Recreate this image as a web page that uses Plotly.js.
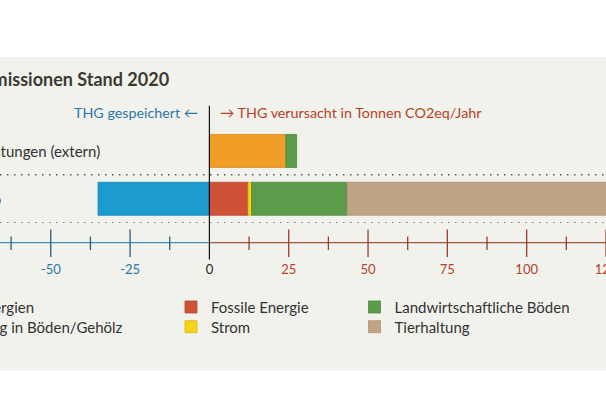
<!DOCTYPE html>
<html>
<head>
<meta charset="utf-8">
<script src="https://cdn.plot.ly/plotly-3.0.1.min.js"></script>
<style>
  html, body { margin: 0; padding: 0; background: #ffffff; }
  #chart { width: 606px; height: 402px; }
</style>
</head>
<body>
<div id="chart"></div>
<script>
// ---- data ----
const categories = ['Betrieb', 'Vorleistungen (extern)'];
const vorleistungen = [null, 24.1];       // orange
const speicherung = [-35.1, null];        // blue (stored)
const fossileEnergie = [12.2, null];      // red
const strom = [1.1, null];                // yellow
const boeden = [30.1, 3.4];               // green
const tierhaltung = [90, null];           // tan
const seriesNames = ['Zukauf Energien', 'Speicherung in Böden/Gehölz', 'Fossile Energie', 'Strom', 'Landwirtschaftliche Böden', 'Tierhaltung'];
const tickValues = [-50, -25, 0, 25, 50, 75, 100, 125];
const tickLabels = ['-50', '-25', '0', '25', '50', '75', '100', '125'];
const minorTickValues = [-62.5, -37.5, -12.5, 12.5, 37.5, 62.5, 87.5, 112.5];

// ---- layout helpers ----
const W = 606, H = 402;
const plotTop = 126.85, plotBottom = 260;
const yP = py => (plotBottom - py) / (plotBottom - plotTop);
const xP = px => px / W;
const FONT = 'Lato, "Open Sans", sans-serif';
const BLUE_TXT = '#2a78a8', RED_TXT = '#b5412b';
const BLUE_AX = '#3d90b6', RED_AX = '#a85444';
const BLUE_TICK = '#245f80', RED_TICK = '#9a3d2f';
const xMin = -66, xMax = 125;

const colors = ['#f09e28', '#1b9bce', '#cd5237', '#f5d31a', '#5b9b4a', '#c0a584'];
const lines = ['#d98a1c', '#1787b5', '#b8452c', '#e0b800', '#4c8a3d', '#ad9170'];
const seriesData = [vorleistungen, speicherung, fossileEnergie, strom, boeden, tierhaltung];
const legendIds = ['legend', 'legend2', 'legend3', 'legend4', 'legend5', 'legend6'];

const traces = seriesData.map((vals, i) => ({
  type: 'bar',
  orientation: 'h',
  name: seriesNames[i],
  y: categories,
  x: vals,
  width: 0.69,
  marker: { color: colors[i], line: { color: lines[i], width: 0.8 } },
  legend: legendIds[i],
  hoverinfo: 'skip'
}));

const shapes = [];
// beige panel
shapes.push({ type: 'rect', xref: 'paper', yref: 'paper', x0: -0.02, x1: 1.02, y0: yP(371), y1: yP(57),
  fillcolor: '#f2f2ec', line: { width: 0 }, layer: 'below' });
// dotted separators
[-0.5, 0.5].forEach(v => shapes.push({ type: 'line', xref: 'paper', yref: 'y', x0: 0, x1: 1, y0: v, y1: v,
  line: { color: '#555555', width: 1.5, dash: '1.5px,5.5px' }, layer: 'above' }));
// axis line (blue negative, red positive)
shapes.push({ type: 'line', xref: 'x', yref: 'paper', x0: xMin, x1: 0, y0: yP(242.7), y1: yP(242.7), line: { color: BLUE_AX, width: 1.3 } });
shapes.push({ type: 'line', xref: 'x', yref: 'paper', x0: 0, x1: xMax + 5, y0: yP(242.7), y1: yP(242.7), line: { color: RED_AX, width: 1.3 } });
// major ticks
tickValues.filter(v => v !== 0).forEach(v => shapes.push({ type: 'line', xref: 'x', yref: 'paper', x0: v, x1: v,
  y0: yP(229.5), y1: yP(257), line: { color: v < 0 ? BLUE_TICK : RED_TICK, width: 1.3 } }));
// minor ticks
minorTickValues.forEach(v => shapes.push({ type: 'line', xref: 'x', yref: 'paper', x0: v, x1: v,
  y0: yP(236.5), y1: yP(250), line: { color: v < 0 ? BLUE_TICK : RED_TICK, width: 1.3 } }));
// zero line
shapes.push({ type: 'line', xref: 'x', yref: 'paper', x0: 0, x1: 0, y0: yP(105.5), y1: yP(259.5),
  line: { color: '#111111', width: 1.2 }, layer: 'above' });

const annotations = [
  { text: '<b>THG-Emissionen Stand 2020</b>', xref: 'paper', yref: 'paper', x: xP(171), y: yP(79), xanchor: 'right', yanchor: 'middle',
    showarrow: false, font: { family: FONT, size: 18, color: '#3a3a33' } },
  { text: 'THG gespeichert ←', xref: 'paper', yref: 'paper', x: xP(200), y: yP(112), xanchor: 'right', yanchor: 'middle',
    showarrow: false, font: { family: FONT, size: 14.3, color: BLUE_TXT } },
  { text: '→ THG verursacht in Tonnen CO2eq/Jahr', xref: 'paper', yref: 'paper', x: xP(218), y: yP(112), xanchor: 'left', yanchor: 'middle',
    showarrow: false, font: { family: FONT, size: 14.3, color: RED_TXT } },
  { text: categories[1], xref: 'paper', yref: 'y', x: xP(102), y: categories[1], xanchor: 'right', yanchor: 'middle',
    showarrow: false, font: { family: FONT, size: 15, color: '#333333' } },
  { text: categories[0], xref: 'paper', yref: 'y', x: xP(3), y: categories[0], xanchor: 'right', yanchor: 'middle',
    showarrow: false, font: { family: FONT, size: 15, color: '#333333' } }
];

const tickText = tickLabels.map((t, i) => {
  const v = tickValues[i];
  const c = v < 0 ? BLUE_TXT : (v > 0 ? RED_TXT : '#222222');
  return '<span style="color:' + c + '">' + t + '</span>';
});

const legendBase = { orientation: 'v', bgcolor: 'rgba(0,0,0,0)', borderwidth: 0, traceorder: 'normal',
  font: { family: FONT, size: 15, color: '#333333' }, yanchor: 'middle', itemclick: false, itemdoubleclick: false };
const legendRowsY = [307.3, 327];
// per legend entry: anchor x (px) and side
const legendPos = [
  { x: 40, xanchor: 'right' }, { x: 128, xanchor: 'right' },
  { x: 171, xanchor: 'left' }, { x: 171, xanchor: 'left' },
  { x: 354.5, xanchor: 'left' }, { x: 354.5, xanchor: 'left' }
];

const layout = {
  width: W, height: H,
  margin: { l: 0, r: 0, t: plotTop, b: H - plotBottom, pad: 0, autoexpand: false },
  paper_bgcolor: '#ffffff',
  plot_bgcolor: 'rgba(0,0,0,0)',
  barmode: 'relative',
  showlegend: true,
  font: { family: FONT },
  xaxis: {
    range: [xMin, xMax], fixedrange: true,
    tickmode: 'array', tickvals: tickValues, ticktext: tickText,
    showgrid: false, zeroline: false, showline: false, ticks: '',
    tickfont: { family: FONT, size: 13 }, ticklabeloverflow: 'allow',
    anchor: 'free', position: 0
  },
  yaxis: {
    type: 'category', categoryorder: 'array', categoryarray: categories,
    range: [-0.5, 1.5], domain: [yP(222.65), 1], fixedrange: true,
    showgrid: false, zeroline: false, showline: false, showticklabels: false, ticks: ''
  },
  shapes: shapes,
  annotations: annotations
};
legendIds.forEach((id, i) => {
  const p = legendPos[i];
  layout[id] = Object.assign({}, legendBase, { x: xP(p.x), xanchor: p.xanchor, y: yP(legendRowsY[i % 2]) });
});

Plotly.newPlot('chart', traces, layout, { displayModeBar: false, staticPlot: true });
</script>
</body>
</html>
